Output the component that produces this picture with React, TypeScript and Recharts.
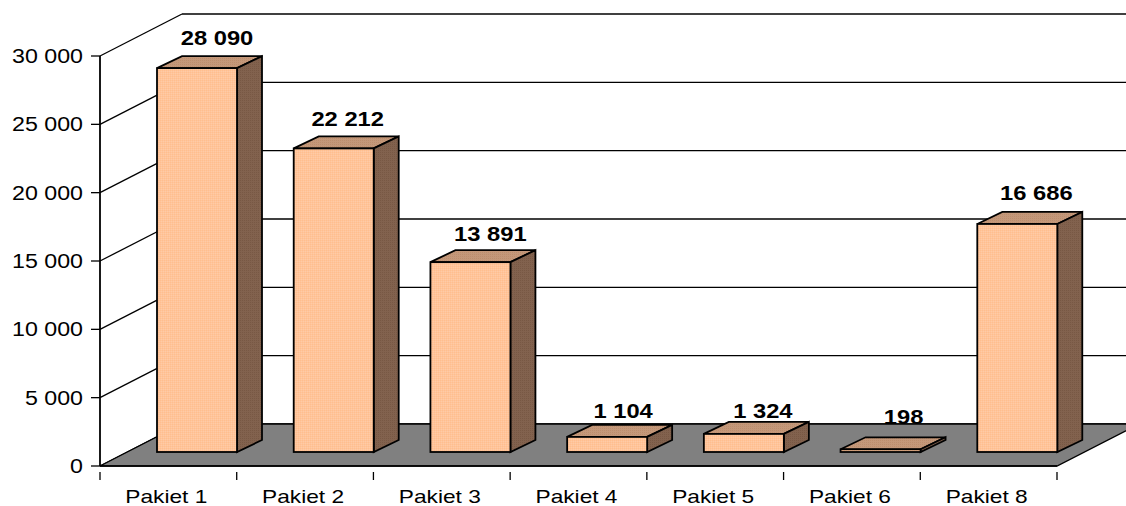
import React from 'react';
import { BarChart, Bar, XAxis, YAxis, CartesianGrid, ReferenceArea, LabelList } from 'recharts';

const categories = ['Pakiet 1', 'Pakiet 2', 'Pakiet 3', 'Pakiet 4', 'Pakiet 5', 'Pakiet 6', 'Pakiet 8'];
const values = [28090, 22212, 13891, 1104, 1324, 198, 16686];
const yTicks = [0, 5000, 10000, 15000, 20000, 25000, 30000];
const data = categories.map((name, i) => ({ name, value: values[i] }));

const LABEL_NUDGE_X = [1, -5, 1, -3, 0, 4, 0];
const LABEL_NUDGE_Y = [-2, -1, 0, 2, 5, -4, -3];

const PLOT_LEFT = 100;
const PLOT_WIDTH = 957;
const HALF_BAND = PLOT_WIDTH / categories.length / 2;
const WALL_DX = 82;
const WALL_DY = -42;
const BAR_DX = 29;
const BAR_DY = -14;
const SIDE_DX = 25;
const SIDE_DY = -12;
const INK = '#000';
const FONT = 'Liberation Sans';

const fmt = (v: number) => String(v).replace(/\B(?=(\d{3})+$)/g, ' ');
const numWidth = (s: string, size: number, stretch: number) =>
  [...s].reduce((w, c) => w + (c === ' ' ? 0.278 : 0.556), 0) * size * stretch;

function Floor(p: any) {
  const { x, y, width, height } = p;
  const b = y + height;
  const r = x + width;
  return (
    <g>
      <defs>
        <pattern id="front" width="2" height="2" patternUnits="userSpaceOnUse">
          <rect width="2" height="2" fill="#FFC49A" />
          <rect width="1" height="1" fill="#FFBE8E" />
          <rect x="1" y="1" width="1" height="1" fill="#FFCBA6" />
        </pattern>
        <pattern id="top" width="2" height="2" patternUnits="userSpaceOnUse">
          <rect width="2" height="2" fill="#C4987A" />
          <rect width="1" height="1" fill="#BC8E6E" />
        </pattern>
        <pattern id="side" width="2" height="2" patternUnits="userSpaceOnUse">
          <rect width="2" height="2" fill="#82624E" />
          <rect width="1" height="1" fill="#785844" />
        </pattern>
      </defs>
      <polygon
        points={`${x},${b} ${x + WALL_DX},${b + WALL_DY} ${r + WALL_DX},${b + WALL_DY} ${r},${b}`}
        fill="#808080"
        stroke={INK}
        strokeWidth={1.3}
      />
    </g>
  );
}

function GridLine(p: any) {
  const { x1, y1, x2 } = p;
  return (
    <g key={p.key ?? y1}>
      <line x1={x1} y1={y1} x2={x1 + WALL_DX} y2={y1 + WALL_DY} stroke={INK} strokeWidth={1.3} />
      <line x1={x1 + WALL_DX} y1={y1 + WALL_DY} x2={x2 + WALL_DX} y2={y1 + WALL_DY} stroke={INK} strokeWidth={1.3} />
    </g>
  );
}

function Box(p: any) {
  const { x, y, width, height } = p;
  const fx = x + BAR_DX;
  const fy = y + BAR_DY;
  const h = height;
  const w = width;
  return (
    <g stroke={INK} strokeWidth={1.8} strokeLinejoin="miter">
      <polygon
        points={`${fx},${fy} ${fx + SIDE_DX},${fy + SIDE_DY} ${fx + w + SIDE_DX},${fy + SIDE_DY} ${fx + w},${fy}`}
        fill="url(#top)"
      />
      <polygon
        points={`${fx + w},${fy} ${fx + w + SIDE_DX},${fy + SIDE_DY} ${fx + w + SIDE_DX},${fy + h + SIDE_DY} ${fx + w},${fy + h}`}
        fill="url(#side)"
      />
      <rect x={fx} y={fy} width={w} height={h} fill="url(#front)" />
    </g>
  );
}

function ValueLabel(p: any) {
  const { x, y, width, value, index } = p;
  const s = fmt(value);
  return (
    <text
      x={x + BAR_DX + width / 2 + 19 + LABEL_NUDGE_X[index]}
      y={y + BAR_DY - 21 + LABEL_NUDGE_Y[index]}
      textAnchor="middle"
      fontFamily={FONT}
      fontWeight="bold"
      fontSize={20}
      fill={INK}
      textLength={numWidth(s, 19, 1.25)}
      lengthAdjust="spacingAndGlyphs"
    >
      {s}
    </text>
  );
}

function YTick(p: any) {
  const { x, y, payload } = p;
  const s = fmt(payload.value);
  return (
    <text
      x={x - 6}
      y={y + 7}
      textAnchor="end"
      fontFamily={FONT}
      fontSize={20}
      fill={INK}
      textLength={numWidth(s, 19.5, 1.19)}
      lengthAdjust="spacingAndGlyphs"
    >
      {s}
    </text>
  );
}

function XTick(p: any) {
  const { x, y, payload, index } = p;
  const top = y - 2;
  return (
    <g>
      {index === 0 && <line x1={x - HALF_BAND} y1={top} x2={x - HALF_BAND} y2={top + 8} stroke={INK} strokeWidth={1.3} />}
      <line x1={x + HALF_BAND} y1={top} x2={x + HALF_BAND} y2={top + 8} stroke={INK} strokeWidth={1.3} />
      <text
        x={x - 2}
        y={503}
        textAnchor="middle"
        fontFamily={FONT}
        fontSize={18.5}
        fill={INK}
        textLength={82}
        lengthAdjust="spacingAndGlyphs"
      >
        {payload.value}
      </text>
    </g>
  );
}

export default function App() {
  return (
    <div style={{ position: 'absolute', left: 0, top: 0, width: 1126, height: 506, background: '#fff' }}>
      <BarChart
        width={1126}
        height={506}
        data={data}
        margin={{ top: 56, right: 1126 - PLOT_LEFT - PLOT_WIDTH, bottom: 0, left: 0 }}
        barSize={80}
      >
        <ReferenceArea shape={<Floor />} ifOverflow="visible" />
        <CartesianGrid vertical={false} horizontal={(props: any) => <GridLine {...props} />} />
        <XAxis
          dataKey="name"
          height={40}
          tickLine={false}
          axisLine={{ stroke: INK, strokeWidth: 1.3 }}
          tickSize={6}
          interval={0}
          tick={<XTick />}
        />
        <YAxis
          width={PLOT_LEFT}
          domain={[0, 30000]}
          ticks={yTicks}
          tickLine={{ stroke: INK, strokeWidth: 1.3 }}
          axisLine={{ stroke: INK, strokeWidth: 1.8 }}
          tickSize={9}
          interval={0}
          tick={<YTick />}
        />
        <Bar dataKey="value" shape={<Box />} isAnimationActive={false}>
          <LabelList dataKey="value" content={<ValueLabel />} />
        </Bar>
      </BarChart>
    </div>
  );
}
